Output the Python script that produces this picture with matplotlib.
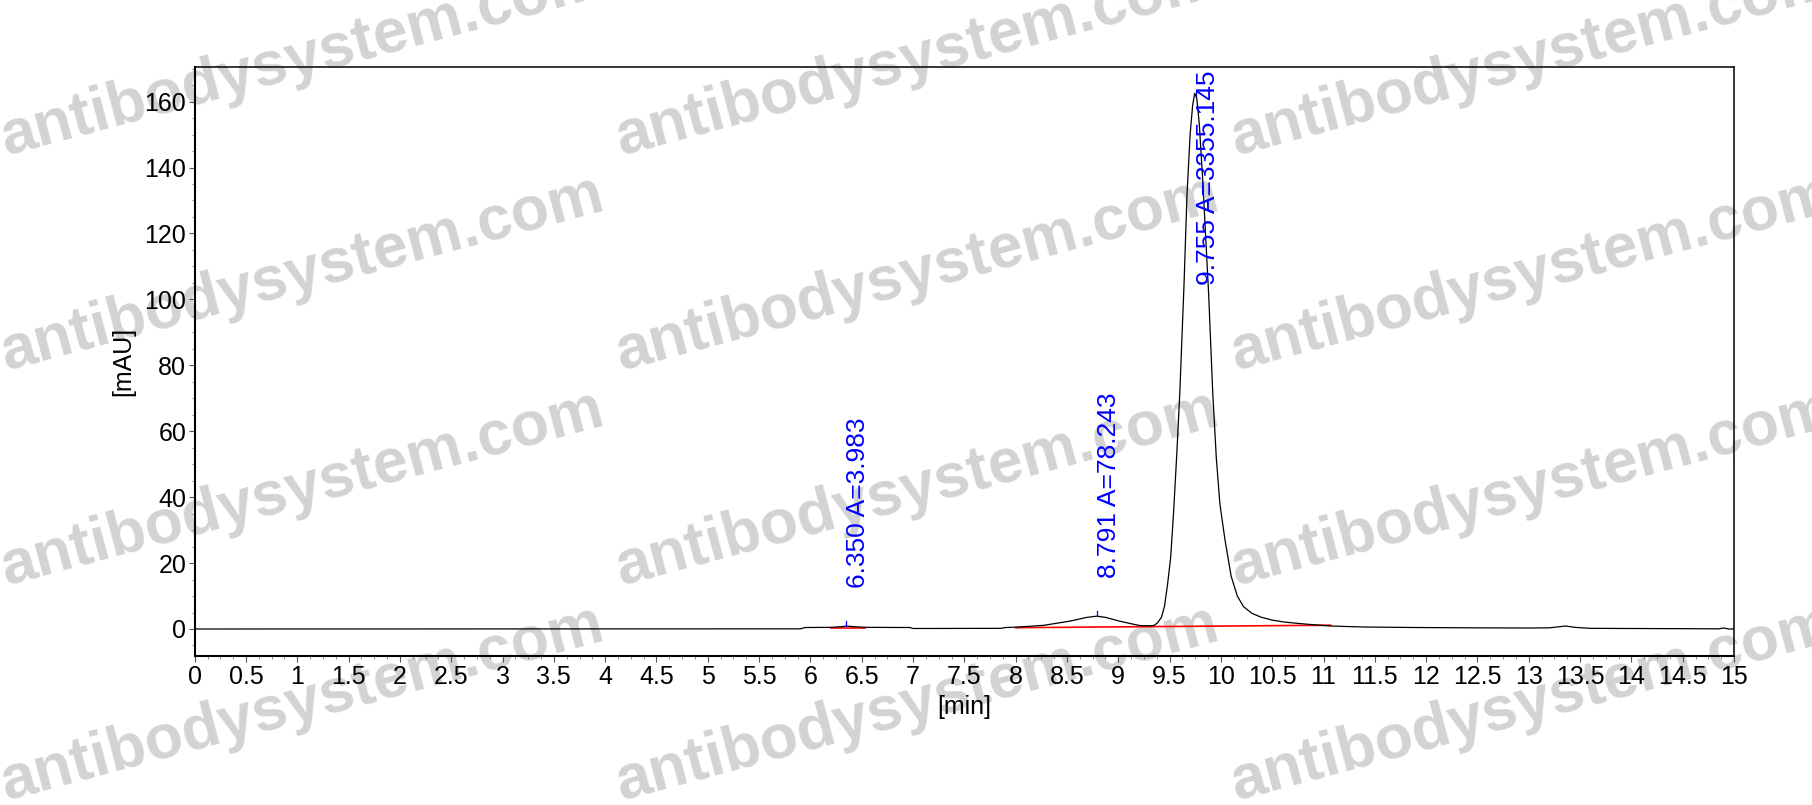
"""HPLC chromatogram with peak annotations and a repeated watermark."""

import numpy as np
import matplotlib

matplotlib.use("Agg")
import matplotlib.pyplot as plt
from matplotlib.ticker import MultipleLocator, FormatStrFormatter

plt.rcParams["font.family"] = ["Liberation Sans", "DejaVu Sans"]

# trace: retention time [min] and signal [mAU]
time_min = [0.0, 5.90, 5.95, 6.20, 6.30, 6.35, 6.42, 6.55, 6.97, 7.00,
            7.86, 7.90, 8.00, 8.27, 8.53, 8.69, 8.79, 8.88, 9.01, 9.14,
            9.22, 9.32, 9.35, 9.38, 9.42, 9.45, 9.48, 9.51, 9.54, 9.57,
            9.60, 9.64, 9.67, 9.70, 9.725, 9.745, 9.765, 9.79, 9.825, 9.85,
            9.88, 9.92, 9.955, 9.99, 10.04, 10.10, 10.16, 10.22, 10.30, 10.39,
            10.50, 10.62, 10.75, 10.90, 11.07, 11.40, 11.90, 12.50, 13.00, 13.20,
            13.30, 13.36, 13.45, 13.60, 14.00, 14.50, 14.85, 14.90, 14.95, 15.0]
signal_mau = [0.0, 0.05, 0.45, 0.5, 0.7, 0.9, 0.7, 0.5, 0.45, 0.15,
              0.2, 0.45, 0.55, 1.1, 2.4, 3.5, 3.9, 3.5, 2.4, 1.5,
              1.0, 1.0, 1.1, 1.8, 3.5, 6.8, 13.5, 21.5, 36.0, 53.0,
              72.0, 104.0, 132.0, 150.0, 159.0, 162.5, 161.0, 153.0, 135.0, 120.0,
              102.0, 72.0, 52.0, 38.0, 27.0, 16.0, 10.0, 6.8, 4.8, 3.6,
              2.7, 2.1, 1.7, 1.3, 0.9, 0.6, 0.45, 0.35, 0.3, 0.35,
              0.7, 0.9, 0.5, 0.2, 0.15, 0.1, 0.05, 0.3, 0.0, 0.0]

# integrated peaks
peak_rt = [6.350, 8.791, 9.755]
peak_area = [3.983, 78.243, 3355.145]

# integration baselines (start / end points)
base_t0 = [6.20, 8.00]
base_v0 = [0.45, 0.40]
base_t1 = [6.53, 11.07]
base_v1 = [0.45, 1.15]

x_range = (0.0, 15.0)
y_range = (-8.1, 170.4)

watermark = "antibodysystem.com"

W, H, DPI = 1812, 805, 100
fig = plt.figure(figsize=(W / DPI, H / DPI), dpi=DPI, facecolor="white")

# watermark grid behind the axes (cut at the figure edges, as in the source)
for xp in (6, 621, 1236):
    for yp in (155, 370, 585, 800):
        fig.text(xp / W, 1 - yp / H, watermark, fontsize=45, fontweight="bold",
                 color="#d3d3d3", rotation=15, rotation_mode="anchor",
                 ha="left", va="baseline", zorder=0)

ax = fig.add_axes([194.7 / W, 1 - 655.7 / H, (1734 - 194.7) / W, (655.7 - 67.3) / H])
ax.set_zorder(1)
ax.patch.set_alpha(0.0)

ax.plot(time_min, signal_mau, color="black", lw=0.9, zorder=3)
for t0, v0, t1, v1 in zip(base_t0, base_v0, base_t1, base_v1):
    ax.plot([t0, t1], [v0, v1], color="#ff0000", lw=1.2, zorder=2)

ax.set_xlim(*x_range)
ax.set_ylim(*y_range)

ax.xaxis.set_major_locator(MultipleLocator(0.5))
ax.xaxis.set_minor_locator(MultipleLocator(0.125))
ax.xaxis.set_major_formatter(FormatStrFormatter("%g"))
ax.yaxis.set_major_locator(MultipleLocator(20))
ax.yaxis.set_minor_locator(MultipleLocator(5))
ax.yaxis.set_major_formatter(FormatStrFormatter("%g"))

ax.tick_params(which="major", direction="out", length=4, width=0.8,
               color="#555555", labelsize=18, labelcolor="black")
ax.tick_params(axis="x", which="major", pad=3)
ax.tick_params(axis="y", which="major", pad=2)
ax.tick_params(which="minor", direction="out", length=2.5, width=0.6, color="#777777")

for side in ("left", "bottom"):
    ax.spines[side].set_linewidth(1.5)
for side in ("top", "right"):
    ax.spines[side].set_linewidth(1.1)

ax.set_xlabel("[min]", fontsize=18, va="center")
ax.set_ylabel("[mAU]", fontsize=18, va="center")
ax.xaxis.set_label_coords(0.5, -0.087)
ax.yaxis.set_label_coords(-0.0463, 0.5)

# peak markers and labels; a label that would run past the top hangs from it
fig.canvas.draw()
ax_top = ax.get_window_extent().y1
for rt, area in zip(peak_rt, peak_area):
    apex = float(np.interp(rt, time_min, signal_mau))
    ax.plot([rt, rt], [apex, apex + 1.6], color="#0000ff", lw=0.9, zorder=4)
    label = f"{rt:.3f} A={area:.3f}"
    txt = ax.annotate(label, xy=(rt, apex), xytext=(0, 27.5), textcoords="offset points",
                      rotation=90, ha="left", va="bottom", color="#0000ff",
                      fontsize=19, zorder=5)
    bb = txt.get_window_extent(fig.canvas.get_renderer())
    if bb.y1 > ax_top:
        txt.remove()
        ax.annotate(label, xy=(rt, 1.0), xycoords=("data", "axes fraction"),
                    xytext=(0, -2), textcoords="offset points",
                    rotation=90, ha="left", va="top", color="#0000ff",
                    fontsize=19, zorder=5)

fig.savefig("out.png", dpi=DPI, facecolor="white")
